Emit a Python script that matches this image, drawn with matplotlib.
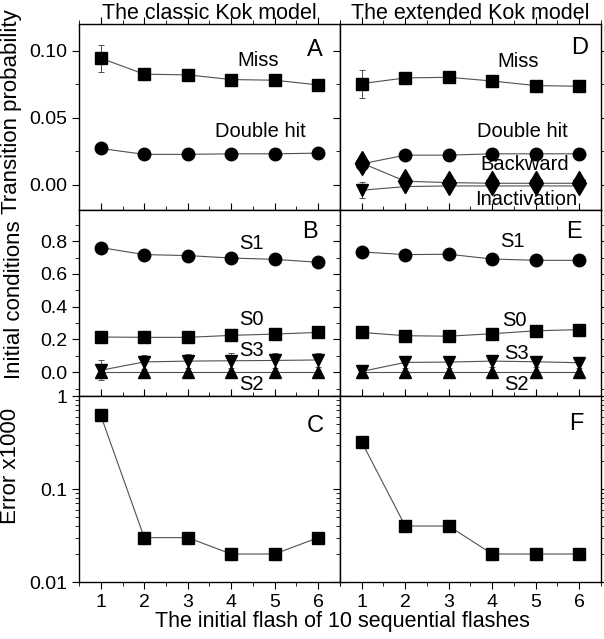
import matplotlib
matplotlib.use('Agg')
import matplotlib.pyplot as plt
from matplotlib.ticker import MultipleLocator, FixedLocator, LogLocator, NullFormatter, FormatStrFormatter

plt.rcParams['font.family'] = ['Liberation Sans', 'DejaVu Sans']

flash = [1, 2, 3, 4, 5, 6]

# panel A - classic Kok model, transition probabilities
a_miss = [0.0945, 0.0825, 0.082, 0.0785, 0.078, 0.0745]
a_miss_err = [0.010, 0, 0, 0, 0, 0]
a_dhit = [0.027, 0.0226, 0.0226, 0.023, 0.023, 0.0235]

# panel D - extended Kok model, transition probabilities
d_miss = [0.0755, 0.0797, 0.0802, 0.0774, 0.074, 0.0735]
d_miss_err = [0.0105, 0, 0, 0, 0, 0]
d_dhit = [0.0155, 0.022, 0.022, 0.023, 0.023, 0.023]
d_back = [0.0161, 0.0025, 0.0015, 0.001, 0.001, 0.001]
d_back_err = [0.003, 0, 0, 0, 0, 0]
d_inact = [-0.0042, -0.0015, -0.001, -0.001, -0.001, -0.001]
d_inact_err = [0.006, 0, 0, 0, 0, 0]

# panel B - classic, initial conditions
b_s1 = [0.761, 0.718, 0.712, 0.697, 0.689, 0.671]
b_s0 = [0.215, 0.213, 0.213, 0.225, 0.233, 0.243]
b_s3 = [0.012, 0.063, 0.068, 0.07, 0.072, 0.075]
b_s3_err = [0.062, 0.045, 0.045, 0.045, 0.045, 0.045]
b_s2 = [0.0, 0.0, 0.0, 0.0, 0.0, 0.0]

# panel E - extended, initial conditions
e_s1 = [0.734, 0.718, 0.72, 0.691, 0.683, 0.683]
e_s0 = [0.243, 0.223, 0.22, 0.235, 0.253, 0.26]
e_s3 = [0.005, 0.06, 0.062, 0.068, 0.064, 0.058]
e_s3_err = [0.04, 0.035, 0.035, 0.035, 0.035, 0.035]
e_s2 = [0.0, 0.0, 0.0, 0.0, 0.0, 0.0]

# panels C and F - error x1000
c_err = [0.62, 0.03, 0.03, 0.02, 0.02, 0.03]
f_err = [0.32, 0.04, 0.04, 0.02, 0.02, 0.02]

LC = '#505050'
LW = 0.8
TXT = 14.5


def serie(ax, y, marker, ms, err=None):
    if err is not None:
        ax.errorbar(flash, y, yerr=err, fmt='none', ecolor=LC, elinewidth=0.7,
                    capsize=2, capthick=0.7, zorder=2)
    ax.plot(flash, y, color=LC, lw=LW, marker=marker, ms=ms, mfc='black',
            mec='black', zorder=3)


fig, axes = plt.subplots(3, 2, figsize=(6.04, 6.39), dpi=100, sharex=True)
fig.subplots_adjust(left=0.1308, right=0.995, top=0.9624, bottom=0.0892,
                    hspace=0, wspace=0)

for ax in axes.flat:
    ax.set_xlim(0.5, 6.5)
    ax.xaxis.set_major_locator(FixedLocator(flash))
    ax.xaxis.set_minor_locator(MultipleLocator(0.5))
    ax.tick_params(which='both', top=True, right=True, labelsize=14)
    ax.tick_params(which='major', length=5)
    ax.tick_params(which='minor', length=3)
    ax.tick_params(axis='x', which='both', direction='out')
    for sp in ax.spines.values():
        sp.set_linewidth(1.0)

# top row
for ax in axes[0]:
    ax.set_ylim(-0.019, 0.12)
    ax.yaxis.set_major_locator(MultipleLocator(0.05))
    ax.yaxis.set_minor_locator(MultipleLocator(0.025))
    ax.yaxis.set_major_formatter(FormatStrFormatter('%.2f'))

for ax in axes[1]:
    ax.set_ylim(-0.145, 0.99)
    ax.yaxis.set_major_locator(MultipleLocator(0.2))
    ax.yaxis.set_minor_locator(MultipleLocator(0.1))
    ax.yaxis.set_major_formatter(FormatStrFormatter('%.1f'))

for ax in axes[2]:
    ax.set_yscale('log')
    ax.set_ylim(0.01, 1)
    ax.yaxis.set_major_locator(FixedLocator([0.01, 0.1, 1]))
    ax.yaxis.set_minor_locator(LogLocator(base=10, subs=range(2, 10)))
    ax.yaxis.set_minor_formatter(NullFormatter())
    ax.set_yticklabels(['0.01', '0.1', '1'])

for ax in axes[:, 1]:
    ax.tick_params(axis='y', labelleft=False)

for ax in axes.flat:
    ax.tick_params(axis='y', which='both', direction='out')

# A
ax = axes[0, 0]
serie(ax, a_miss, 's', 8, a_miss_err)
serie(ax, a_dhit, 'o', 9)
ax.text(4.62, 0.093, 'Miss', ha='center', va='center', fontsize=TXT)
ax.text(4.67, 0.040, 'Double hit', ha='center', va='center', fontsize=TXT)
ax.text(5.93, 0.1005, 'A', ha='center', va='center', fontsize=17)
ax.set_title('The classic Kok model', fontsize=15.5, pad=3)

# D
ax = axes[0, 1]
serie(ax, d_miss, 's', 8, d_miss_err)
serie(ax, d_dhit, 'o', 9)
serie(ax, d_inact, 'v', 9, d_inact_err)
serie(ax, d_back, 'd', 12, d_back_err)
ax.text(4.59, 0.092, 'Miss', ha='center', va='center', fontsize=TXT)
ax.text(4.70, 0.040, 'Double hit', ha='center', va='center', fontsize=TXT)
ax.text(4.74, 0.0148, 'Backward', ha='center', va='center', fontsize=TXT)
ax.text(4.78, -0.011, 'Inactivation', ha='center', va='center', fontsize=TXT)
ax.text(6.0, 0.102, 'D', ha='center', va='center', fontsize=17)
ax.set_title('The extended Kok model', fontsize=15.5, pad=3)

# B
ax = axes[1, 0]
serie(ax, b_s1, 'o', 9)
serie(ax, b_s0, 's', 8)
serie(ax, b_s3, 'v', 8, b_s3_err)
serie(ax, b_s2, '^', 8)
ax.text(4.47, 0.786, 'S1', ha='center', va='center', fontsize=TXT)
ax.text(4.47, 0.32, 'S0', ha='center', va='center', fontsize=TXT)
ax.text(4.47, 0.135, 'S3', ha='center', va='center', fontsize=TXT)
ax.text(4.47, -0.074, 'S2', ha='center', va='center', fontsize=TXT)
ax.text(5.81, 0.857, 'B', ha='center', va='center', fontsize=17)

# E
ax = axes[1, 1]
serie(ax, e_s1, 'o', 9)
serie(ax, e_s0, 's', 8)
serie(ax, e_s3, 'v', 8, e_s3_err)
serie(ax, e_s2, '^', 8)
ax.text(4.47, 0.796, 'S1', ha='center', va='center', fontsize=TXT)
ax.text(4.52, 0.315, 'S0', ha='center', va='center', fontsize=TXT)
ax.text(4.55, 0.117, 'S3', ha='center', va='center', fontsize=TXT)
ax.text(4.55, -0.074, 'S2', ha='center', va='center', fontsize=TXT)
ax.text(5.89, 0.857, 'E', ha='center', va='center', fontsize=17)

# C
ax = axes[2, 0]
serie(ax, c_err, 's', 8)
ax.text(5.93, 0.48, 'C', ha='center', va='center', fontsize=17)

# F
ax = axes[2, 1]
serie(ax, f_err, 's', 8)
ax.text(5.93, 0.5, 'F', ha='center', va='center', fontsize=17)

fig.text(12 / 604, 1 - 112 / 639, 'Transition probability', rotation=90,
         ha='center', va='center', fontsize=16)
fig.text(15 / 604, 1 - 300 / 639, 'Initial conditions', rotation=90,
         ha='center', va='center', fontsize=16)
fig.text(11 / 604, 1 - 466 / 639, 'Error x1000', rotation=90,
         ha='center', va='center', fontsize=16)
fig.text(342 / 604, 1 - 622 / 639, 'The initial flash of 10 sequential flashes',
         ha='center', va='center', fontsize=15.5)

fig.savefig('out.png', dpi=100)
